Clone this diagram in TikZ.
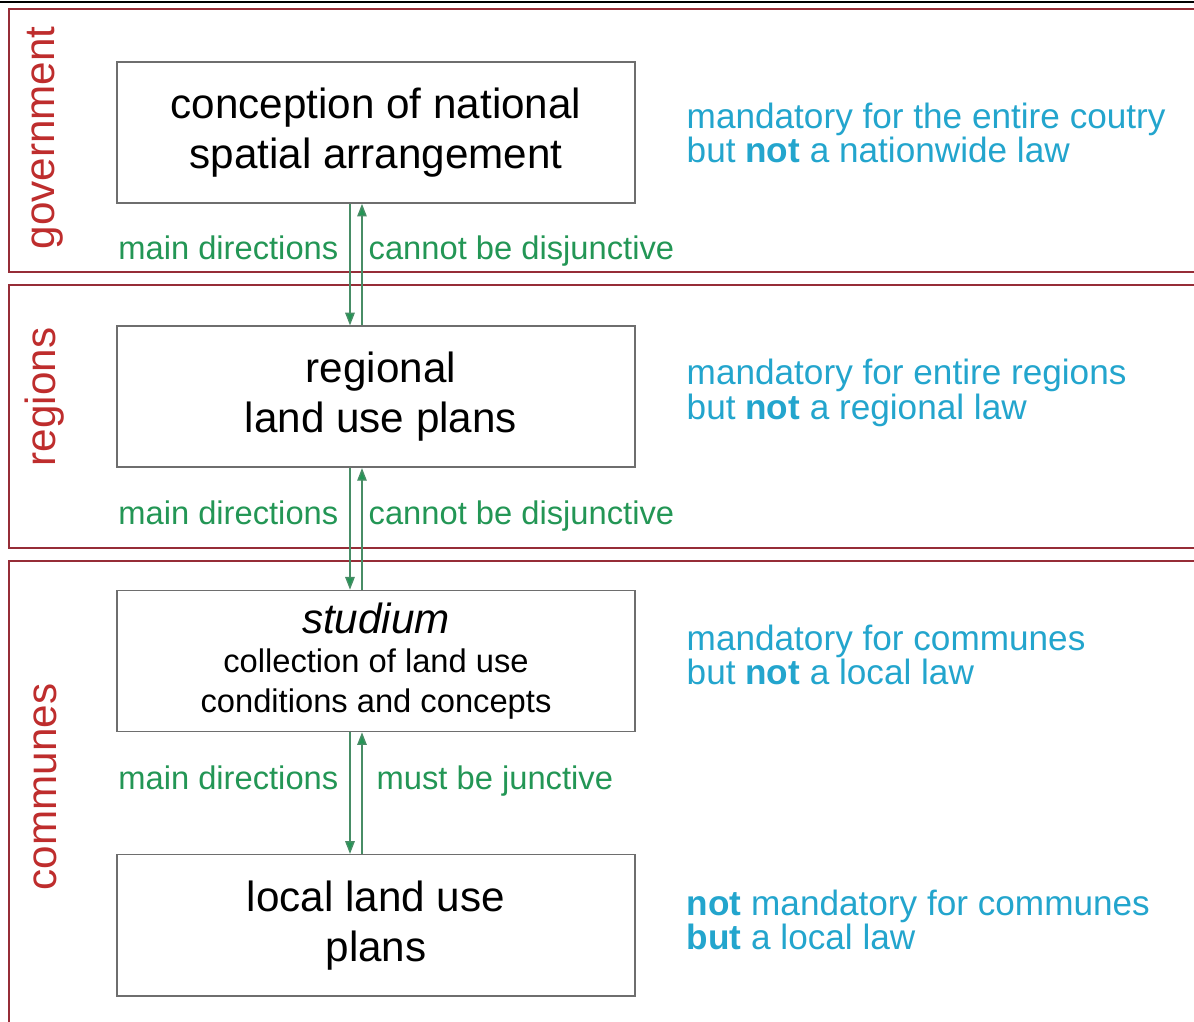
\documentclass[tikz,border=0pt]{standalone}
\usepackage{fontspec}
\setmainfont{Liberation Sans}
\usepackage{tikz}
\usetikzlibrary{arrows.meta}
\usetikzlibrary{positioning}

\definecolor{framered}{RGB}{150,45,55}
\definecolor{levelred}{RGB}{190,45,45}
\definecolor{linkgreen}{RGB}{35,150,85}
\definecolor{notecyan}{RGB}{35,165,205}
\definecolor{boxgray}{RGB}{110,110,110}

\begin{document}
\begin{tikzpicture}[x=0.01cm, y=-0.01cm,
    plan/.style={draw=boxgray, line width=0.45pt, minimum width=5.18cm,
        minimum height=1.41cm, align=center, inner sep=0pt,
        font=\fontsize{12}{14.2}\selectfont},
    level/.style={rotate=90, text=levelred, font=\fontsize{12}{14}\selectfont},
    band/.style={draw=framered, line width=0.6pt},
    link/.style={draw=linkgreen!60!gray, line width=0.4pt,
        -{Triangle[length=3.6pt,width=2.7pt,fill=linkgreen]}},
    tag/.style={text=linkgreen, font=\fontsize{9.3}{11}\selectfont},
    note/.style={anchor=west, align=left, text=notecyan, inner sep=0pt,
        font=\fontsize{10}{9.9}\selectfont}]
\useasboundingbox (0,0) rectangle (1194,1021);

% Bands for the three levels
\draw[line width=0.3pt] (0,2) -- (1194,2);
\draw[band] (1220,9) -- (9,9) -- (9,272) -- (1220,272);
\draw[band] (1220,285) -- (9,285) -- (9,548) -- (1220,548);
\draw[band] (1220,561) -- (9,561) -- (9,1040);

\node[level] (gov) at (45,138) {government};
\node[level] (reg) at (45,397) {regions};
\node[level] (com) at (45,787) {communes};

% The four plans
\node[plan] (national) at (376,132.5) {conception of national\\spatial arrangement};
\node[plan, below=1.215cm of national] (regional) {\hspace*{0.1cm}regional\\\hspace*{0.1cm}land use plans};
\node[plan, below=1.215cm of regional, font=\fontsize{9.3}{11.3}\selectfont] (studium)
    {{\fontsize{12}{14}\selectfont\itshape studium}\\
    collection of land use\\conditions and concepts};
\node[plan, below=1.215cm of studium] (local) {local land use\\plans};

% Links between the plans
\foreach \upper/\lower in {national/regional, regional/studium, studium/local} {
    \draw[link] ([xshift=-0.26cm]\upper.south) -- ([xshift=-0.26cm]\lower.north);
    \draw[link] ([xshift=-0.14cm]\lower.north) -- ([xshift=-0.14cm]\upper.south);
}

\foreach \y/\x/\rule [count=\i] in {259/368/cannot be disjunctive,
        524/368/cannot be disjunctive, 789/376/must be junctive} {
    \node[tag, anchor=base east, inner sep=0pt] (main\i) at (339,\y) {main directions};
    \node[tag, anchor=base west, inner sep=0pt] (rule\i) at (\x,\y) {\rule};
}

% Legal status
\node[note] (noteA) at (686,133) {mandatory for the entire coutry\\but \textbf{not} a nationwide law};
\node[note] (noteB) at (686,393) {mandatory for entire regions\\but \textbf{not} a regional law};
\node[note] (noteC) at (686,655) {mandatory for communes\\but \textbf{not} a local law};
\node[note] (noteD) at (686,920) {\textbf{not} mandatory for communes\\\textbf{but} a local law};
\end{tikzpicture}
\end{document}
